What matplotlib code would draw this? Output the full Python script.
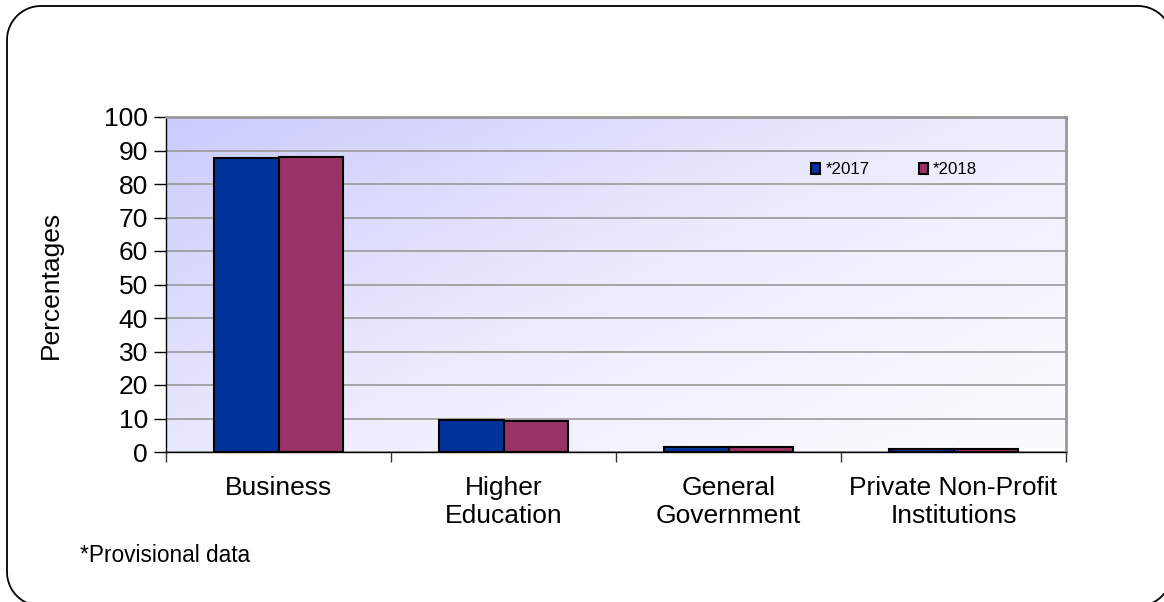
import numpy as np
import matplotlib.pyplot as plt
from matplotlib.patches import PathPatch
from matplotlib.path import Path
from matplotlib.colors import LinearSegmentedColormap

plt.rcParams['font.family'] = ['Liberation Sans', 'DejaVu Sans']

categories = ['Business', 'Higher\nEducation', 'General\nGovernment', 'Private Non-Profit\nInstitutions']
series_names = ['*2017', '*2018']
values_2017 = [87.8, 9.6, 1.6, 0.9]
values_2018 = [88.1, 9.3, 1.5, 0.9]
colors = ['#003399', '#993366']
y_ticks = [0, 10, 20, 30, 40, 50, 60, 70, 80, 90, 100]

W, H = 1164, 602
fig = plt.figure(figsize=(W / 100, H / 100), dpi=100)


def rounded_rect(x0, y0, x1, y1, r, n=24):
    """Closed path of a rectangle with circular corners (pixel units, y down)."""
    pts = []
    corners = [(x1 - r, y0 + r, -90, 0), (x1 - r, y1 - r, 0, 90),
               (x0 + r, y1 - r, 90, 180), (x0 + r, y0 + r, 180, 270)]
    for cx, cy, a0, a1 in corners:
        for a in np.linspace(np.radians(a0), np.radians(a1), n):
            pts.append((cx + r * np.cos(a), cy + r * np.sin(a)))
    pts.append(pts[0])
    return Path(pts)


# full-figure overlay in pixel units for the rounded outer frame
over = fig.add_axes([0, 0, 1, 1], zorder=-5)
over.set_xlim(0, W)
over.set_ylim(H, 0)
over.axis('off')
over.add_patch(PathPatch(rounded_rect(7, 6, 1172, 606, 34), fill=False,
                         edgecolor='black', linewidth=1.3))

left, right, top, bottom = 166, 1066, 117, 452
ax = fig.add_axes([left / W, 1 - bottom / H, (right - left) / W, (bottom - top) / H])

# diagonal gradient background
cmap = LinearSegmentedColormap.from_list('bg', ['#cbcbfd', '#ececfe', '#fcfcff'])
gx, gy = np.meshgrid(np.linspace(0, 1, 300), np.linspace(0, 1, 200))
grad = (gx * 0.75 + gy * 0.6) / 1.35
ax.imshow(grad, cmap=cmap, extent=[0, 1, 0, 1], transform=ax.transAxes,
          aspect='auto', zorder=0, interpolation='bilinear')
ax.set_facecolor('none')

x = np.arange(len(categories))
bw = 0.286
ax.bar(x - bw / 2, values_2017, bw, color=colors[0], edgecolor='black',
       linewidth=1.5, zorder=3, label=series_names[0])
ax.bar(x + bw / 2, values_2018, bw, color=colors[1], edgecolor='black',
       linewidth=1.5, zorder=3, label=series_names[1])

ax.set_xlim(-0.5, len(categories) - 0.5)
ax.set_ylim(0, 100)
ax.set_yticks(y_ticks)
ax.yaxis.grid(True, color='#999999', linewidth=1.2, zorder=1)
ax.set_axisbelow(True)

ax.set_xticks(x)
ax.set_xticklabels(categories, fontsize=19, linespacing=1.25)
ax.tick_params(axis='x', length=0, pad=17)
ax.set_xticks(np.arange(len(categories) + 1) - 0.5, minor=True)
ax.tick_params(axis='x', which='minor', length=7, width=1, color='#333333', direction='out')
ax.tick_params(axis='y', labelsize=19, length=9, width=1, direction='out', pad=4)

for s in ['top', 'right']:
    ax.spines[s].set_color('#999999')
    ax.spines[s].set_linewidth(2)
ax.spines['left'].set_color('black')
ax.spines['bottom'].set_color('black')
ax.spines['left'].set_linewidth(1)
ax.spines['bottom'].set_linewidth(1)

ax.set_ylabel('Percentages', fontsize=19, labelpad=30)

ax.legend(loc='center left', bbox_to_anchor=((811 - left) / (right - left), 1 - (170 - top) / (bottom - top)),
          frameon=False, ncol=2, fontsize=12.2, handlelength=0.55, handleheight=0.55,
          handletextpad=0.3, columnspacing=2.9, borderaxespad=0, borderpad=0)

fig.text(80 / W, 1 - 555 / H, '*Provisional data', fontsize=16.3, va='center', ha='left')

fig.savefig('out.png', dpi=100)
